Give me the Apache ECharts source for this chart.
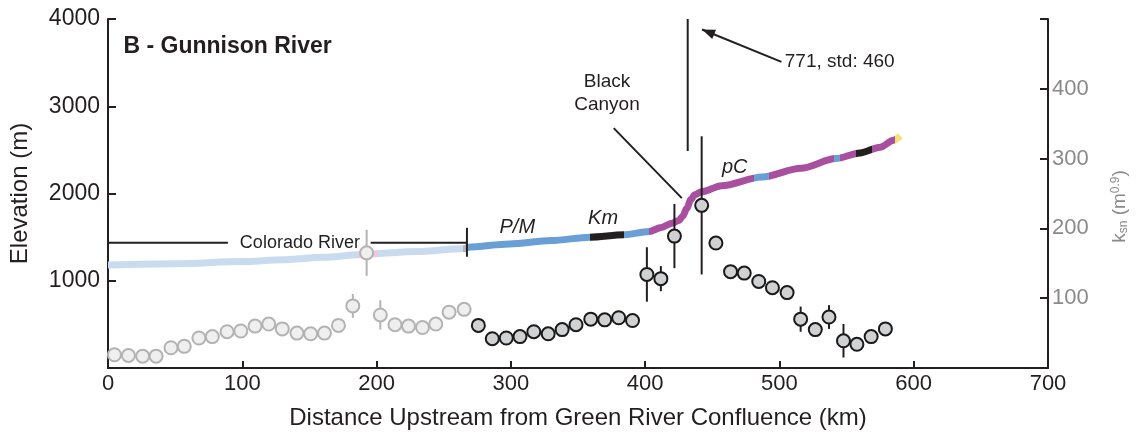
<!DOCTYPE html>
<html>
<head>
<meta charset="utf-8">
<script src="https://cdn.jsdelivr.net/npm/echarts@6/dist/echarts.min.js"></script>
<style>
  html, body { margin: 0; padding: 0; background: #fff; }
  #chart { width: 1142px; height: 437px; }
</style>
</head>
<body>
<div id="chart"></div>
<script>
const FONT = '"Liberation Sans", Arial, Helvetica, sans-serif';
const INK = '#231f20';
const GREY_TEXT = '#8a8a8a';

// Longitudinal elevation profile of the river (distance km, elevation m)
const profileKm   = [0, 50, 100, 130, 160, 192, 230, 266, 268, 299, 330, 359, 384, 403, 412, 420, 425, 428, 431, 434, 437, 442, 457, 487, 516, 542, 560, 575, 585, 590];
const profileElev = [1180, 1195, 1220, 1240, 1270, 1305, 1335, 1370, 1385, 1421, 1460, 1500, 1527, 1565, 1610, 1660, 1690, 1740, 1830, 1930, 1985, 2020, 2090, 2190, 2290, 2400, 2465, 2530, 2610, 2660];

// Lithology colouring along the profile: [from km, to km, colour]
const lithoSegments = [
  [0,   186, '#c9dbef'],
  [186, 201, '#ecc8e2'],
  [201, 264, '#c9dbef'],
  [264, 268, '#b5b5b5'],
  [268, 359, '#6a9fd5'],
  [359, 384, INK],
  [384, 403, '#6a9fd5'],
  [403, 481, '#a8509f'],
  [481, 492, '#6a9fd5'],
  [492, 541, '#a8509f'],
  [541, 545, '#6a9fd5'],
  [545, 557, '#a8509f'],
  [557, 569, INK],
  [569, 586, '#a8509f'],
  [586, 600, '#f3e27a']
];

// Normalised channel steepness along the Colorado River reach (faded)
const fadedKm  = [4.8, 15.2, 25.8, 35.8, 46.9, 56.8, 67.7, 77.7, 88.7, 98.9, 109.5, 119.7, 129.8, 140.7, 150.9, 161.2, 171.6, 182.3, 192.6, 202.8, 213.7, 223.8, 234.2, 244.1, 254.0, 265.2];
const fadedKsn = [19, 18, 17, 17, 29, 31, 43, 45, 52, 53, 60, 63, 56, 50, 49, 50, 61, 89, 165, 76, 62, 60, 58, 63, 80, 84];
const fadedStd = [0, 0, 0, 0, 0, 0, 0, 0, 0, 0, 0, 0, 0, 0, 0, 0, 0, 17, 33, 21, 0, 0, 0, 0, 0, 0];

// Normalised channel steepness along the Gunnison River
const gunKm  = [275.8, 286.2, 296.6, 306.8, 317.1, 327.8, 338.2, 348.5, 359.5, 369.9, 380.3, 390.6, 401.3, 411.7, 421.8, 431.7, 442.1, 452.7, 463.6, 473.8, 484.6, 494.8, 505.7, 515.8, 526.7, 536.9, 547.7, 557.7, 568.3, 578.9];
const gunKsn = [61, 42, 43, 45, 52, 49, 55, 62, 70, 69, 72, 68, 134, 128, 189, 771, 233, 179, 138, 136, 124, 115, 108, 70, 55, 73, 39, 34, 45, 56];
const gunStd = [10, 0, 0, 0, 0, 0, 0, 0, 0, 0, 0, 0, 39, 18, 46, 460, 99, 0, 0, 0, 0, 0, 0, 18, 0, 17, 24, 0, 0, 0];

// Axis ticks
const xTicks = [0, 100, 200, 300, 400, 500, 600, 700];
const elevTicks = [0, 1000, 2000, 3000, 4000];
const ksnTicks = [0, 100, 200, 300, 400, 500];

// Guide lines in elevation coordinates: [x1, y1, x2, y2, arrow]
const guideLines = [
  [0, 1435, 89.3, 1435, 0],
  [195.6, 1435, 267.3, 1435, 0],
  [267.3, 1607, 267.3, 1275, 0],
  [376.6, 2749, 427.3, 1947, 0],
  [501.5, 3509, 442.4, 3880, 1]
];

// Text labels in elevation coordinates: [x, y, text, style]
const textLabels = [
  [11.5, 3680, 'B - Gunnison River', 'title'],
  [142.9, 1435, 'Colorado River', 'plain'],
  [304.8, 1607, 'P/M', 'unit'],
  [368.7, 1710, 'Km', 'unit'],
  [466.7, 2295, 'pC', 'unit'],
  [371.6, 3153, 'Black\nCanyon', 'center'],
  [504.0, 3509, '771, std: 460', 'note']
];

const labelStyles = {
  title:  { fontSize: 23, fontWeight: 'bold', align: 'left' },
  plain:  { fontSize: 18, align: 'center' },
  unit:   { fontSize: 20, fontStyle: 'italic', align: 'center' },
  center: { fontSize: 19, align: 'center', lineHeight: 23 },
  note:   { fontSize: 19, align: 'left' }
};

const zip = (xs, ys) => xs.map((x, i) => [x, ys[i]]);
const errorData = (xs, ys, ss) => xs.map((x, i) => [x, ys[i] - ss[i], ys[i] + ss[i], ss[i]]).filter(d => d[3] > 0);

function clipRect(params) {
  const c = params.coordSys;
  return { type: 'rect', shape: { x: c.x, y: c.y, width: c.width, height: c.height } };
}

function errorBar(color) {
  return function (params, api) {
    const x = api.value(0);
    const p1 = api.coord([x, api.value(1)]);
    const p2 = api.coord([x, api.value(2)]);
    return {
      type: 'group',
      clipPath: clipRect(params),
      children: [{
        type: 'line',
        shape: { x1: p1[0], y1: p1[1], x2: p2[0], y2: p2[1] },
        style: { stroke: color, lineWidth: 2 }
      }]
    };
  };
}

function guideRender(params, api) {
  const p1 = api.coord([api.value(0), api.value(1)]);
  const p2 = api.coord([api.value(2), api.value(3)]);
  const children = [{
    type: 'line',
    shape: { x1: p1[0], y1: p1[1], x2: p2[0], y2: p2[1] },
    style: { stroke: INK, lineWidth: 2 }
  }];
  if (api.value(4)) {
    const dx = p2[0] - p1[0], dy = p2[1] - p1[1];
    const len = Math.hypot(dx, dy);
    const ux = dx / len, uy = dy / len;
    const L = 13, W = 5;
    const bx = p2[0] - ux * L, by = p2[1] - uy * L;
    children.push({
      type: 'polygon',
      shape: { points: [[p2[0], p2[1]], [bx - uy * W, by + ux * W], [bx + uy * W, by - ux * W]] },
      style: { fill: INK }
    });
  }
  return { type: 'group', children };
}

const chart = echarts.init(document.getElementById('chart'), null, { renderer: 'canvas' });

chart.setOption({
  animation: false,
  backgroundColor: '#fff',
  textStyle: { fontFamily: FONT },
  grid: { left: 105, right: 94, top: 19, bottom: 69 },
  xAxis: {
    type: 'value',
    min: xTicks[0],
    max: xTicks[xTicks.length - 1],
    interval: 100,
    axisLine: { onZero: false, lineStyle: { color: INK, width: 2 } },
    axisTick: { inside: true, length: 7, lineStyle: { color: INK, width: 2 } },
    axisLabel: { fontSize: 22, color: INK, margin: 5, fontFamily: FONT },
    splitLine: { show: false },
    name: 'Distance Upstream from Green River Confluence (km)',
    nameLocation: 'middle',
    nameGap: 38,
    nameTextStyle: { fontSize: 24, color: INK, fontFamily: FONT }
  },
  yAxis: [
    {
      type: 'value',
      position: 'left',
      min: elevTicks[0],
      max: elevTicks[elevTicks.length - 1],
      interval: 1000,
      axisLine: { show: true, lineStyle: { color: INK, width: 2 } },
      axisTick: { show: true, inside: true, length: 8, lineStyle: { color: INK, width: 2 } },
      axisLabel: {
        fontSize: 23, color: INK, margin: 8, fontFamily: FONT,
        formatter: v => (v === 0 ? '' : String(v))
      },
      splitLine: { show: false },
      name: 'Elevation (m)',
      nameLocation: 'middle',
      nameGap: 76,
      nameTextStyle: { fontSize: 24, color: INK, fontFamily: FONT }
    },
    {
      type: 'value',
      position: 'right',
      min: ksnTicks[0],
      max: ksnTicks[ksnTicks.length - 1],
      interval: 100,
      axisLine: { show: true, lineStyle: { color: INK, width: 2 } },
      axisTick: { show: true, inside: true, length: 8, lineStyle: { color: INK, width: 2 } },
      axisLabel: {
        fontSize: 22, color: GREY_TEXT, margin: 4, fontFamily: FONT,
        formatter: v => (v === 0 || v === 500 ? '' : String(v))
      },
      splitLine: { show: false },
      name: 'k{sub|sn} (m{sup|0.9})',
      nameLocation: 'middle',
      nameGap: 62,
      nameRotate: 90,
      nameTextStyle: {
        fontSize: 19, color: GREY_TEXT, fontFamily: FONT,
        padding: [0, 26, 0, 0],
        rich: {
          sub: { fontSize: 12, color: GREY_TEXT, verticalAlign: 'bottom', padding: [8, 0, 0, 0], fontFamily: FONT },
          sup: { fontSize: 12, color: GREY_TEXT, verticalAlign: 'top', padding: [0, 0, 8, 0], fontFamily: FONT }
        }
      }
    }
  ],
  visualMap: {
    type: 'piecewise',
    show: false,
    dimension: 0,
    seriesIndex: 0,
    pieces: lithoSegments.map(s => ({ gte: s[0], lt: s[1], color: s[2] }))
  },
  series: [
    {
      name: 'Elevation profile',
      type: 'line',
      yAxisIndex: 0,
      data: zip(profileKm, profileElev),
      showSymbol: false,
      smooth: 0.3,
      smoothMonotone: 'x',
      lineStyle: { width: 7 },
      z: 3
    },
    {
      name: 'Guides',
      type: 'custom',
      yAxisIndex: 0,
      data: guideLines,
      renderItem: guideRender,
      silent: true,
      z: 4
    },
    {
      name: 'ksn error (Colorado)',
      type: 'custom',
      yAxisIndex: 1,
      data: errorData(fadedKm, fadedKsn, fadedStd),
      renderItem: errorBar('#b3b3b3'),
      z: 5
    },
    {
      name: 'ksn error (Gunnison)',
      type: 'custom',
      yAxisIndex: 1,
      data: errorData(gunKm, gunKsn, gunStd),
      renderItem: errorBar(INK),
      z: 5
    },
    {
      name: 'ksn (Colorado)',
      type: 'scatter',
      yAxisIndex: 1,
      data: zip(fadedKm, fadedKsn),
      symbol: 'circle',
      symbolSize: 13,
      itemStyle: { color: '#efefef', borderColor: '#b3b3b3', borderWidth: 2, opacity: 1 },
      z: 6
    },
    {
      name: 'ksn (Gunnison)',
      type: 'scatter',
      yAxisIndex: 1,
      data: zip(gunKm, gunKsn),
      symbol: 'circle',
      symbolSize: 13,
      clip: true,
      itemStyle: { color: '#d0d1d3', borderColor: '#1a1a1a', borderWidth: 2, opacity: 1 },
      z: 6
    },
    {
      name: 'Labels',
      type: 'scatter',
      yAxisIndex: 0,
      symbolSize: 0,
      silent: true,
      itemStyle: { opacity: 1 },
      z: 7,
      data: textLabels.map(t => ({
        value: [t[0], t[1]],
        label: Object.assign({
          show: true,
          position: [0, 0],
          verticalAlign: 'middle',
          color: INK,
          opacity: 1,
          fontFamily: FONT,
          formatter: t[2]
        }, labelStyles[t[3]])
      }))
    }
  ]
});
</script>
</body>
</html>
